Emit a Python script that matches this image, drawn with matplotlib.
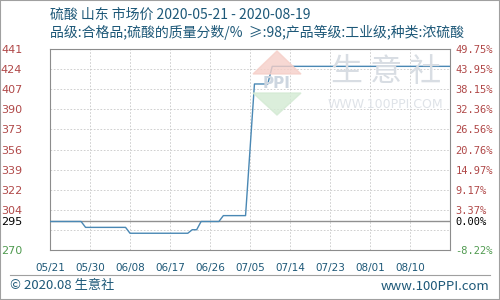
import matplotlib.pyplot as plt
import matplotlib.dates as mdates
from matplotlib.patches import Polygon, Rectangle
import pandas as pd

plt.rcParams['font.family'] = ['Noto Sans CJK SC', 'DejaVu Sans']

# 数据
dates = ['2020-05-21', '2020-05-28', '2020-05-29', '2020-06-07', '2020-06-08',
         '2020-06-21', '2020-06-22', '2020-06-23', '2020-06-24', '2020-06-28',
         '2020-06-29', '2020-07-04', '2020-07-06', '2020-07-09', '2020-07-10',
         '2020-08-19']
prices = [295, 295, 290, 290, 285, 285, 288, 288, 295, 295, 300, 300,
          412, 412, 427, 427]

base_price = 295
right_pcts = [49.75, 43.95, 38.15, 32.36, 26.56, 20.76, 14.97, 9.17, 3.37, -2.43, -8.22]
left_labels = ['441', '424', '407', '390', '373', '356', '339', '322', '304', '', '270']
x_ticks = ['2020-05-21', '2020-05-30', '2020-06-08', '2020-06-17', '2020-06-26',
           '2020-07-05', '2020-07-14', '2020-07-23', '2020-08-01', '2020-08-10']

title = '硫酸 山东 市场价 2020-05-21 - 2020-08-19'
subtitle = '品级:合格品;硫酸的质量分数/%  ≥:98;产品等级:工业级;种类:浓硫酸'

text_col = '#1d5878'
red_col = '#b04848'
green_col = '#4f9a4f'
frame_col = '#8c8c8c'

x = pd.to_datetime(dates)
fig = plt.figure(figsize=(5, 3), dpi=100)
ax = fig.add_axes([50 / 500, 50 / 300, 400 / 500, 201 / 300])

# 水印
fig.patches.append(Polygon([(277 / 500, 1 - 51 / 300), (253 / 500, 1 - 74 / 300),
                            (301 / 500, 1 - 74 / 300)], closed=True,
                           transform=fig.transFigure, color='#f6cfc8', alpha=0.8, zorder=0))
fig.patches.append(Polygon([(253 / 500, 1 - 93 / 300), (301 / 500, 1 - 93 / 300),
                            (277 / 500, 1 - 115 / 300)], closed=True,
                           transform=fig.transFigure, color='#d3ead3', alpha=0.8, zorder=0))
fig.text(277 / 500, 1 - 84 / 300, 'PPI', color='#cdd6e0', fontsize=11, fontweight='bold',
         ha='center', va='center', family='DejaVu Sans', zorder=0)
fig.text(386 / 500, 1 - 72 / 300, '生 意 社', color='#d8dde3', fontsize=23,
         ha='center', va='center', zorder=0)
fig.text(385 / 500, 1 - 105 / 300, 'WWW.100PPI.COM', color='#dfe3e8', fontsize=9,
         ha='center', va='center', family='DejaVu Sans', zorder=0)
ax.patch.set_alpha(0)

ax.axhline(base_price, color='#909090', linewidth=1, zorder=2)
ax.plot(x, prices, color='#4a88b4', linewidth=1.0, zorder=3)

ax.set_xlim(pd.Timestamp('2020-05-21'), pd.Timestamp('2020-08-19'))
y_pos = [base_price * (1 + p / 100) for p in right_pcts]
ax.set_ylim(y_pos[-1], y_pos[0])

ax.set_xticks(pd.to_datetime(x_ticks))
ax.xaxis.set_major_formatter(mdates.DateFormatter('%m/%d'))
ax.tick_params(axis='x', length=0, pad=9, labelsize=7.5, labelcolor=text_col)
for lab in ax.get_xticklabels():
    lab.set_family('DejaVu Sans')

ax.set_yticks(y_pos + [base_price])
ax.set_yticklabels(left_labels + [str(base_price)])
ax.tick_params(axis='y', length=0, pad=20, labelsize=8)
for i, lab in enumerate(ax.get_yticklabels()):
    lab.set_family('DejaVu Sans')
    if i == len(left_labels):
        lab.set_color('black')
    elif right_pcts[i] < 0:
        lab.set_color(green_col)
    else:
        lab.set_color(red_col)

ax.grid(True, color='#c8c8c8', linestyle=(0, (2, 2)), linewidth=0.6)
for s in ax.spines.values():
    s.set_color(frame_col)

ax2 = ax.twinx()
ax2.set_ylim(ax.get_ylim())
ax2.set_yticks(y_pos + [base_price])
ax2.set_yticklabels([('%.2f%%' % p if p != -2.43 else '') for p in right_pcts] + ['0.00%'])
ax2.tick_params(axis='y', length=0, pad=4, labelsize=7.5)
for i, lab in enumerate(ax2.get_yticklabels()):
    lab.set_family('DejaVu Sans Mono')
    if i == len(right_pcts):
        lab.set_color('black')
    elif right_pcts[i] < 0:
        lab.set_color(green_col)
    else:
        lab.set_color(red_col)
for s in ax2.spines.values():
    s.set_visible(False)

# 标题
fig.text(50 / 500, 1 - 15 / 300, title, color=text_col, fontsize=10, va='center')
fig.text(50 / 500, 1 - 32 / 300, subtitle, color=text_col, fontsize=10, va='center')

# 底部
fig.add_artist(plt.Line2D([10 / 500, 490 / 500], [1 - 275 / 300, 1 - 275 / 300],
                          color='#a0a0a0', linewidth=0.8))
fig.text(10 / 500, 1 - 286 / 300, '© 2020.08 生意社', color=text_col, fontsize=9.5, va='center')
fig.text(489 / 500, 1 - 286 / 300, 'www.100PPI.com', color=text_col, fontsize=9.5,
         va='center', ha='right')
fig.patches.append(Rectangle((0, 0), 1, 1, transform=fig.transFigure, fill=False,
                             edgecolor='#a0a0a0', linewidth=1.5))

fig.savefig('out.png', dpi=100)
